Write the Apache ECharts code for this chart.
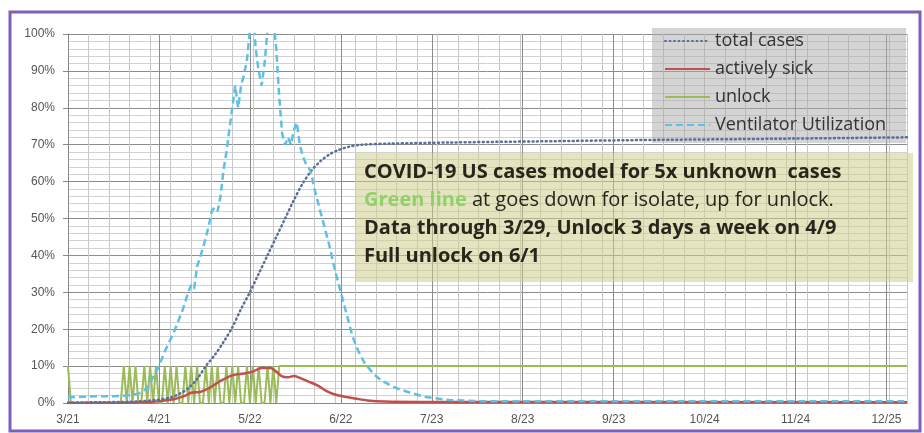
<!DOCTYPE html>
<html>
<head>
<meta charset="utf-8">
<script src="https://cdn.jsdelivr.net/npm/echarts@6/dist/echarts.min.js"></script>
<style>
  html, body { margin: 0; padding: 0; background: #fff; }
  #main { width: 924px; height: 433px; }
</style>
</head>
<body>
<div id="main"></div>
<script>
// day 0 = 3/21, one label every 31 days
const xLabels = ['3/21', '4/21', '5/22', '6/22', '7/23', '8/23', '9/23', '10/24', '11/24', '12/25'];
const lastDay = 286;

// [day, percent]
const totalCases = [
  [0, 0.1], [10, 0.2], [20, 0.3], [25, 0.5], [30, 0.8], [35, 1.5], [38, 2.5], [41, 4],
  [44, 6.5], [47, 10], [50, 13], [53, 16.5], [56, 20.5], [59, 25.5], [62, 30], [65, 35],
  [68, 40], [71, 45], [74, 50], [77, 55], [80, 59.5], [83, 63], [86, 65.5], [89, 67.3],
  [92, 68.5], [96, 69.5], [100, 70], [110, 70.3], [130, 70.6], [160, 70.9], [200, 71.3],
  [240, 71.6], [286, 72]
];

const activelySick = [
  [0, 0], [20, 0.1], [28, 0.3], [32, 0.6], [36, 1], [40, 2], [42, 2.8], [45, 3], [48, 4],
  [52, 6], [56, 7.5], [60, 8], [63, 8.5], [66, 9.5], [69, 9.5], [71, 8.5], [73, 7.2],
  [75, 7], [77, 7.3], [79, 6.8], [82, 5.8], [85, 4.8], [88, 3.3], [91, 2.3], [95, 1.6],
  [98, 1.2], [102, 0.7], [108, 0.4], [120, 0.3], [286, 0.2]
];

// unlock per day from 3/21 to 6/1, then stays 10%
const unlockDaily = [
  10, 0, 0, 0, 0, 0, 0, 0, 0, 0, 0, 0, 0, 0, 0, 0, 0, 0, 0,
  10, 0, 10, 0, 10, 0, 0,
  10, 0, 10, 0, 10, 0, 0,
  10, 0, 10, 0, 10, 0, 0,
  10, 0, 10, 0, 10, 0, 0,
  10, 0, 10, 0, 10, 0, 0,
  10, 0, 10, 0, 10, 0, 0,
  10, 0, 10, 0, 10, 0, 0,
  10, 0, 10, 0,
  10
];
const unlockAfter = [[286, 10]];

const ventilator = [
  [0, 1.5], [5, 1.7], [10, 1.8], [15, 1.8], [20, 2], [24, 2.5], [27, 4], [29, 7], [31, 10],
  [33, 14], [36, 19], [39, 25], [41, 30], [42, 32], [43, 31], [44, 37], [46, 42], [48, 48],
  [49, 52], [50, 53], [51, 52], [52, 56], [53, 63], [54, 68], [55, 74], [56, 80], [57, 86],
  [58, 80], [59, 86], [60, 89], [61, 93], [62, 101], [63, 106], [64, 96], [65, 90], [66, 86],
  [67, 92], [68, 101], [69, 106], [70, 104], [71, 96], [72, 83], [73, 73], [74, 70], [75, 72],
  [76, 70], [77, 74], [78, 76], [79, 70], [80, 67], [81, 65], [82, 64], [83, 62], [84, 58],
  [85, 55], [86, 52], [87, 49], [89, 43], [91, 36], [93, 30], [95, 24], [97, 18], [99, 14],
  [101, 11], [104, 8], [107, 6], [112, 4], [117, 2.7], [122, 1.6], [130, 0.8], [140, 0.5],
  [286, 0.5]
];

const unlock = unlockDaily.map((v, i) => [i, v]).concat(unlockAfter);

const myChart = echarts.init(document.getElementById('main'));

const option = {
  backgroundColor: '#fff',
  animation: false,
  grid: { left: 68, right: 17, top: 34, bottom: 30 },
  legend: {
    orient: 'vertical',
    left: 652,
    top: 28,
    padding: [4, 20, 9, 12],
    itemGap: 10,
    itemWidth: 45,
    itemHeight: 16,
    backgroundColor: 'rgba(170,170,170,0.5)',
    itemStyle: { color: 'rgba(0,0,0,0)', borderWidth: 0, opacity: 0 },
    lineStyle: { width: 2 },
    textStyle: { fontFamily: 'Open Sans', fontSize: 18, color: '#333' },
    data: ['total cases', 'actively sick', 'unlock', 'Ventilator Utilization']
  },
  xAxis: [
    {
      type: 'value',
      min: 0,
      max: lastDay,
      interval: 31,
      axisLine: { show: true, onZero: false, lineStyle: { color: '#888' } },
      axisTick: { show: false },
      splitLine: { show: true, lineStyle: { color: '#8c8c8c', width: 1 } },
      axisLabel: {
        color: '#555',
        fontFamily: 'Liberation Sans',
        fontSize: 12,
        margin: 11,
        showMaxLabel: false,
        formatter: v => xLabels[Math.round(v / 31)] || ''
      }
    },
    {
      type: 'value',
      min: 0,
      max: lastDay,
      interval: 7,
      position: 'top',
      axisLine: { show: false },
      axisTick: { show: false },
      axisLabel: { show: false },
      splitLine: { show: true, lineStyle: { color: '#c8c8c8', width: 1 } }
    }
  ],
  yAxis: {
    type: 'value',
    min: 0,
    max: 100,
    interval: 10,
    axisLine: { show: true, lineStyle: { color: '#888' } },
    axisLabel: {
      color: '#555',
      fontFamily: 'Liberation Sans',
      fontSize: 12,
      margin: 13,
      formatter: '{value}%'
    },
    splitLine: { lineStyle: { color: '#8c8c8c' } },
    minorTick: { show: false, splitNumber: 5 },
    minorSplitLine: { show: true, lineStyle: { color: '#d2d2d2' } }
  },
  series: [
    {
      name: 'total cases',
      type: 'line',
      data: totalCases,
      symbol: 'none',
      smooth: 0.3,
      color: '#5a6f9c',
      lineStyle: { width: 2.5, type: [1, 3.5], cap: 'round', color: '#5a6f9c' },
      z: 4
    },
    {
      name: 'actively sick',
      type: 'line',
      data: activelySick,
      symbol: 'none',
      smooth: 0.3,
      color: '#c0504d',
      lineStyle: { width: 2.5, color: '#c0504d' },
      z: 3
    },
    {
      name: 'unlock',
      type: 'line',
      data: unlock,
      symbol: 'none',
      color: '#9bbb59',
      lineStyle: { width: 2, color: '#9bbb59' },
      z: 2
    },
    {
      name: 'Ventilator Utilization',
      type: 'line',
      data: ventilator,
      symbol: 'none',
      color: '#5ec1e4',
      lineStyle: { width: 2.5, type: [7, 4], color: '#5ec1e4' },
      z: 5
    }
  ],
  graphic: [
    {
      type: 'rect',
      shape: { x: 355, y: 153, width: 558, height: 129 },
      style: { fill: 'rgba(205,205,140,0.55)' },
      z: 50
    },
    {
      type: 'text',
      x: 364,
      y: 158,
      z: 51,
      style: {
        text: '{b|COVID-19 US cases model for 5x unknown  cases}\n' +
              '{g|Green line}{n| at goes down for isolate, up for unlock.}\n' +
              '{b|Data through 3/29, Unlock 3 days a week on 4/9}\n' +
              '{b|Full unlock on 6/1}',
        rich: {
          b: { fontFamily: 'Open Sans', fontWeight: 'bold', fontSize: 20, lineHeight: 28, fill: '#26261a' },
          n: { fontFamily: 'Open Sans', fontSize: 20, lineHeight: 28, fill: '#26261a' },
          g: { fontFamily: 'Open Sans', fontWeight: 'bold', fontSize: 20, lineHeight: 28, fill: '#92d06c' }
        }
      }
    },
    {
      type: 'rect',
      shape: { x: 10, y: 12, width: 910, height: 419 },
      style: { fill: 'none', stroke: '#7e5fbc', lineWidth: 3 },
      z: 60
    }
  ]
};

myChart.setOption(option);
</script>
</body>
</html>
